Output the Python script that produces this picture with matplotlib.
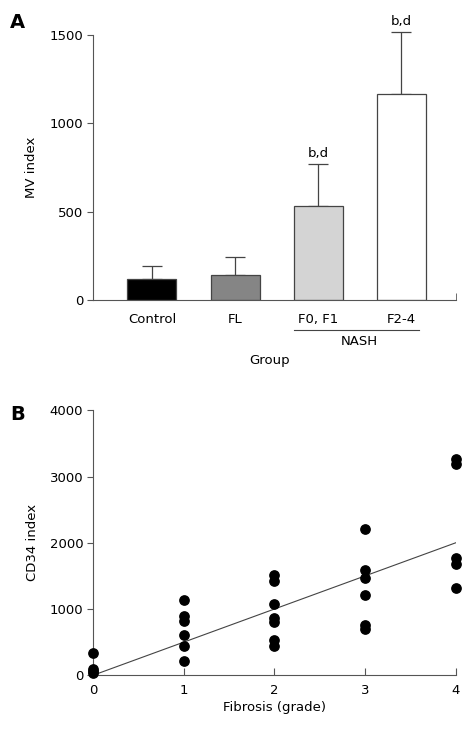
import numpy as np
import matplotlib
matplotlib.use("Agg")
import matplotlib.pyplot as plt

plt.rcParams['font.family'] = ['DejaVu Sans']
plt.rcParams['font.size'] = 9.5

# panel A data
groups = ["Control", "FL", "F0, F1", "F2-4"]
mv_mean = [119, 141, 531, 1168]
mv_err = [75, 104, 236, 347]
bar_colors = ["#000000", "#858585", "#d4d4d4", "#ffffff"]
sig_labels = ["", "", "b,d", "b,d"]

# panel B data
grade0 = [340, 100, 60, 30]
grade1 = [1137, 896, 825, 609, 438, 216]
grade2 = [1514, 1424, 1072, 870, 800, 533, 438]
grade3 = [2209, 1590, 1474, 1208, 765, 694]
grade4 = [3265, 3190, 1776, 1686, 1323]
fit_x = [0, 4]
fit_y = [0, 2000]

W, H = 473, 731
fig = plt.figure(figsize=(W / 100, H / 100), dpi=100)
axc = "#555555"

# ---------- A ----------
axA = fig.add_axes([93 / W, 1 - 300 / H, (456 - 93) / W, (300 - 35) / H])
x = np.arange(len(groups))
axA.bar(x, mv_mean, width=0.59, color=bar_colors, edgecolor="#444444", linewidth=0.9, zorder=2)
eb = axA.errorbar(x, mv_mean, yerr=[np.zeros(len(x)), mv_err], fmt="none", ecolor="#444444",
                  elinewidth=0.9, capsize=7, capthick=0.9, zorder=1)
for art in eb.lines[1] + eb.lines[2]:
    art.set_clip_on(False)
for xi, m, e, s in zip(x, mv_mean, mv_err, sig_labels):
    if s:
        axA.annotate(s, (xi, m + e), xytext=(0, 3), textcoords="offset points",
                     ha="center", va="bottom", annotation_clip=False)
axA.set_xlim(-0.71, 3.66)
axA.set_ylim(0, 1500)
axA.set_yticks([0, 500, 1000, 1500])
axA.set_xticks(x)
axA.set_xticklabels(groups)
axA.tick_params(axis="x", length=0, pad=9)
axA.set_xticks([3.66], minor=True)
axA.tick_params(axis="x", which="minor", direction="in", length=5, color=axc)
axA.tick_params(axis="y", direction="out", length=4, color=axc, pad=3)
for sp in ["top", "right"]:
    axA.spines[sp].set_visible(False)
for sp in ["left", "bottom"]:
    axA.spines[sp].set_color(axc)
axA.set_ylabel("MV index", labelpad=8)
axA.plot([1.71, 3.22], [-0.113, -0.113], color="#444444", linewidth=0.8,
         transform=axA.get_xaxis_transform(), clip_on=False)
axA.text(2.5, -0.158, "NASH", ha="center", va="center", transform=axA.get_xaxis_transform())
axA.text(1.41, -0.23, "Group", ha="center", va="center", transform=axA.get_xaxis_transform())
fig.text(10 / W, 1 - 23 / H, "A", fontsize=14, fontweight="bold", ha="left", va="center")

# ---------- B ----------
axB = fig.add_axes([93 / W, 1 - 675.3 / H, (455.7 - 93) / W, (675.3 - 410.3) / H])
for g, vals in enumerate([grade0, grade1, grade2, grade3, grade4]):
    axB.scatter([g] * len(vals), vals, s=45, color="black", zorder=3, clip_on=False)
axB.plot(fit_x, fit_y, color="#444444", linewidth=0.8)
axB.set_xlim(0, 4)
axB.set_ylim(0, 4000)
axB.set_xticks([0, 1, 2, 3, 4])
axB.set_yticks([0, 1000, 2000, 3000, 4000])
axB.tick_params(axis="x", direction="in", length=5, color=axc, pad=6)
axB.tick_params(axis="y", direction="out", length=4, color=axc, pad=3)
for sp in ["top", "right"]:
    axB.spines[sp].set_visible(False)
for sp in ["left", "bottom"]:
    axB.spines[sp].set_color(axc)
axB.set_xlabel("Fibrosis (grade)", labelpad=3)
axB.set_ylabel("CD34 index", labelpad=8)
fig.text(10 / W, 1 - 415 / H, "B", fontsize=14, fontweight="bold", ha="left", va="center")

fig.savefig("out.png", dpi=100)
